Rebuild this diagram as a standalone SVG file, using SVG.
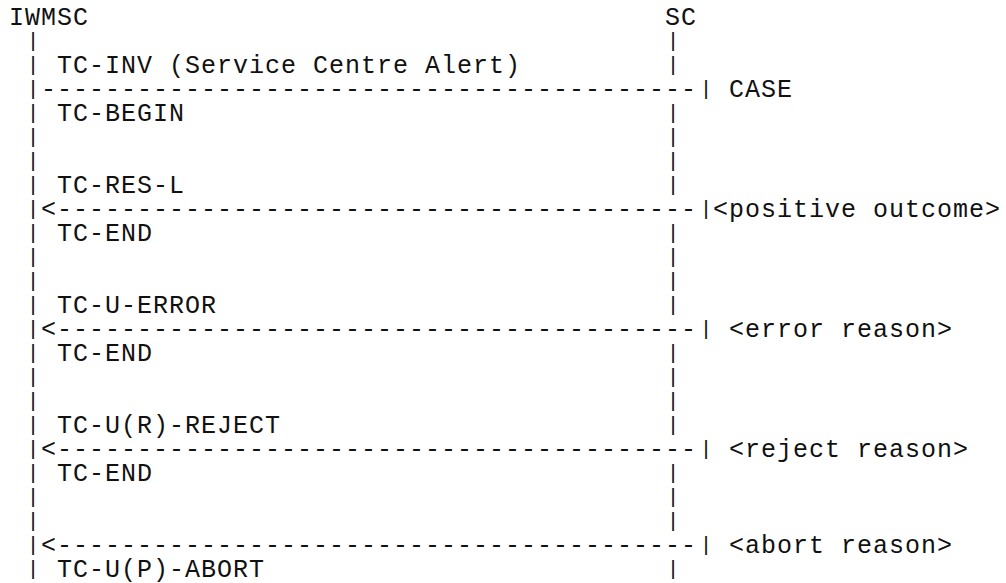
<svg xmlns="http://www.w3.org/2000/svg" width="1006" height="583" viewBox="0 0 1006 583">
<style>
.t{font-family:"Liberation Mono","Courier New",monospace;font-size:25px;letter-spacing:1px;fill:#111}
.b{font-family:"Liberation Mono","Courier New",monospace;font-size:21px;fill:#111}
</style>
<rect x="0" y="0" width="1006" height="583" fill="#fff"/>
<g id="iwmsc">
<text class="t" x="9" y="25">IWMSC</text>
<text class="b" x="26.7" y="47">|</text>
<text class="b" x="26.7" y="71">|</text>
<text class="b" x="26.7" y="95">|</text>
<text class="b" x="26.7" y="119">|</text>
<text class="b" x="26.7" y="143">|</text>
<text class="b" x="26.7" y="167">|</text>
<text class="b" x="26.7" y="191">|</text>
<text class="b" x="26.7" y="215">|</text>
<text class="b" x="26.7" y="239">|</text>
<text class="b" x="26.7" y="263">|</text>
<text class="b" x="26.7" y="287">|</text>
<text class="b" x="26.7" y="311">|</text>
<text class="b" x="26.7" y="335">|</text>
<text class="b" x="26.7" y="359">|</text>
<text class="b" x="26.7" y="383">|</text>
<text class="b" x="26.7" y="407">|</text>
<text class="b" x="26.7" y="431">|</text>
<text class="b" x="26.7" y="455">|</text>
<text class="b" x="26.7" y="479">|</text>
<text class="b" x="26.7" y="503">|</text>
<text class="b" x="26.7" y="527">|</text>
<text class="b" x="26.7" y="551">|</text>
<text class="b" x="26.7" y="575">|</text>
</g>
<g id="sc">
<text class="t" x="665" y="25">SC</text>
<text class="b" x="666.7" y="47">|</text>
<text class="b" x="666.7" y="71">|</text>
<text class="b" x="666.7" y="119">|</text>
<text class="b" x="666.7" y="143">|</text>
<text class="b" x="666.7" y="167">|</text>
<text class="b" x="666.7" y="191">|</text>
<text class="b" x="666.7" y="239">|</text>
<text class="b" x="666.7" y="263">|</text>
<text class="b" x="666.7" y="287">|</text>
<text class="b" x="666.7" y="311">|</text>
<text class="b" x="666.7" y="359">|</text>
<text class="b" x="666.7" y="383">|</text>
<text class="b" x="666.7" y="407">|</text>
<text class="b" x="666.7" y="431">|</text>
<text class="b" x="666.7" y="479">|</text>
<text class="b" x="666.7" y="503">|</text>
<text class="b" x="666.7" y="527">|</text>
<text class="b" x="666.7" y="575">|</text>
</g>
<g id="connectors">
<text class="t" x="41" y="97">-----------------------------------------</text>
<text class="b" x="699.7" y="95">|</text>
<text class="t" x="41" y="217">&lt;----------------------------------------</text>
<text class="b" x="699.7" y="215">|</text>
<text class="t" x="41" y="337">&lt;----------------------------------------</text>
<text class="b" x="699.7" y="335">|</text>
<text class="t" x="41" y="457">&lt;----------------------------------------</text>
<text class="b" x="699.7" y="455">|</text>
<text class="t" x="41" y="553">&lt;----------------------------------------</text>
<text class="b" x="699.7" y="551">|</text>
</g>
<g id="labels">
<text class="t" x="57" y="73">TC-INV (Service Centre Alert)</text>
<text class="t" x="729" y="97">CASE</text>
<text class="t" x="57" y="121">TC-BEGIN</text>
<text class="t" x="57" y="193">TC-RES-L</text>
<text class="t" x="713" y="217">&lt;positive outcome&gt;</text>
<text class="t" x="57" y="241">TC-END</text>
<text class="t" x="57" y="313">TC-U-ERROR</text>
<text class="t" x="729" y="337">&lt;error reason&gt;</text>
<text class="t" x="57" y="361">TC-END</text>
<text class="t" x="57" y="433">TC-U(R)-REJECT</text>
<text class="t" x="729" y="457">&lt;reject reason&gt;</text>
<text class="t" x="57" y="481">TC-END</text>
<text class="t" x="729" y="553">&lt;abort reason&gt;</text>
<text class="t" x="57" y="577">TC-U(P)-ABORT</text>
</g>
</svg>
